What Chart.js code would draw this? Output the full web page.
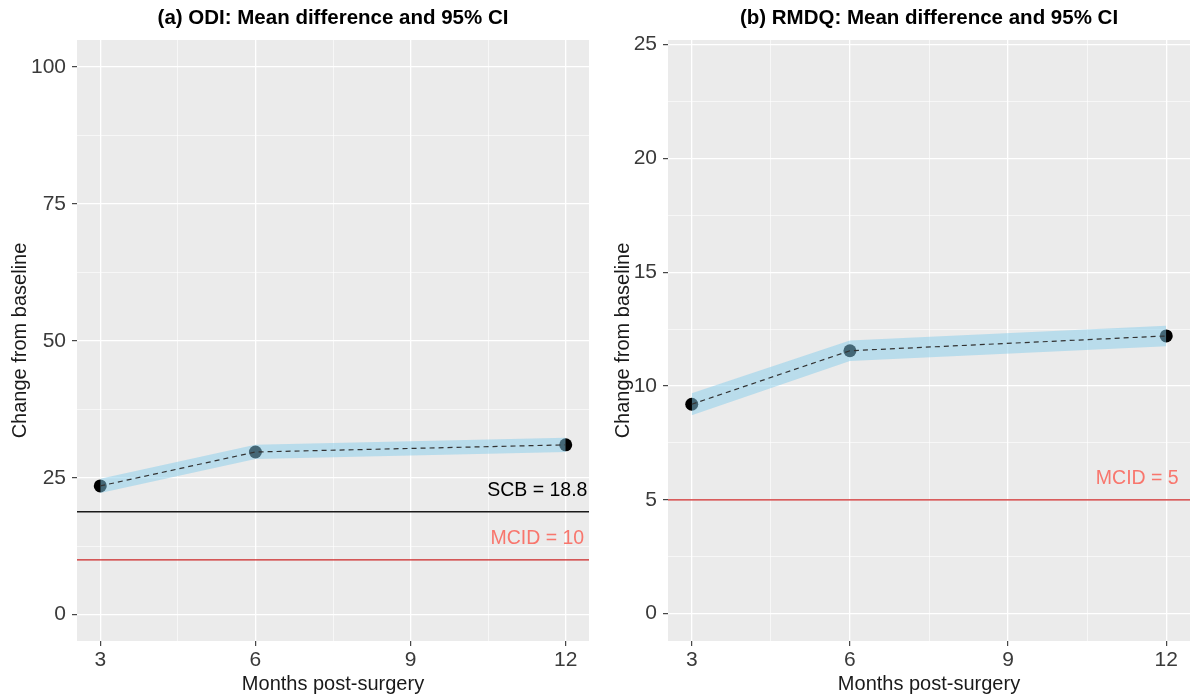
<!DOCTYPE html>
<html>
<head>
<meta charset="utf-8">
<script src="https://cdn.jsdelivr.net/npm/chart.js@4.4.1/dist/chart.umd.min.js"></script>
<style>
html, body { margin: 0; padding: 0; background: #fff; overflow: hidden; }
#wrap { position: relative; width: 1191px; height: 698px; }
canvas { position: absolute; top: 0; }
#myChart1 { left: 0; }
#myChart2 { left: 600px; }
</style>
</head>
<body>
<div id="wrap">
  <canvas id="myChart1" width="600" height="698"></canvas>
  <canvas id="myChart2" width="591" height="698"></canvas>
</div>
<script>
// months with an estimate
const months = [3, 6, 12]
const xTicks = [3, 6, 9, 12]
const xMinor = [4.5, 7.5, 10.5]

// (a) ODI
const odiMean = [23.5, 29.7, 31.0]
const odiLower = [22.2, 28.4, 29.7]
const odiUpper = [24.8, 31.0, 32.3]
const odiTicks = [0, 25, 50, 75, 100]
const odiMinor = [12.5, 37.5, 62.5, 87.5]
const odiScb = 18.8
const odiMcid = 10

// (b) RMDQ
const rmdqMean = [9.2, 11.55, 12.2]
const rmdqLower = [8.72, 11.1, 11.75]
const rmdqUpper = [9.68, 12.0, 12.65]
const rmdqTicks = [0, 5, 10, 15, 20, 25]
const rmdqMinor = [2.5, 7.5, 12.5, 17.5, 22.5]
const rmdqMcid = 5

Chart.defaults.font.family = '"Liberation Sans", Arial, sans-serif'

const xMin = 2.55
const xMax = 12.45
const labelX = 11.45

const panelBg = {
    id: 'panelBg',
    beforeDraw(chart) {
        const a = chart.chartArea
        const c = chart.ctx
        c.save()
        c.fillStyle = '#ebebeb'
        c.fillRect(a.left, a.top, a.right - a.left, a.bottom - a.top)
        c.restore()
    }
}

const refLabels = {
    id: 'refLabels',
    afterDatasetsDraw(chart, args, opts) {
        const c = chart.ctx
        const xs = chart.scales.x
        const ys = chart.scales.y
        c.save()
        c.font = '19.5px "Liberation Sans", Arial, sans-serif'
        c.textAlign = 'center'
        c.textBaseline = 'middle'
        opts.items.forEach(it => {
            c.fillStyle = it.textColor
            c.fillText(it.text, xs.getPixelForValue(labelX), ys.getPixelForValue(it.value) - 21)
        })
        c.restore()
    }
}

function xy(vals) {
    return months.map((m, i) => ({ x: m, y: vals[i] }))
}

function makeChart(id, title, mean, lower, upper, yMin, yMax, yTicks, yMinor, refs, leftW, padRight, yTitlePad) {
    const refSets = refs.map(r => ({
        data: [{ x: xMin, y: r.value }, { x: xMax, y: r.value }],
        borderColor: r.lineColor,
        borderWidth: 1.4,
        pointRadius: 0,
        fill: false,
        order: 10
    }))
    return new Chart(document.getElementById(id), {
        type: 'line',
        data: {
            datasets: [
                ...refSets,
                {
                    data: xy(mean),
                    showLine: false,
                    pointRadius: 6.5,
                    pointBackgroundColor: '#000',
                    pointBorderWidth: 0,
                    order: 5
                },
                {
                    data: xy(lower),
                    borderWidth: 0,
                    pointRadius: 0,
                    fill: false,
                    order: 3
                },
                {
                    data: xy(upper),
                    borderWidth: 0,
                    pointRadius: 0,
                    backgroundColor: 'rgba(135, 206, 235, 0.5)',
                    fill: '-1',
                    order: 3
                },
                {
                    data: xy(mean),
                    borderColor: '#333',
                    borderWidth: 1.2,
                    borderDash: [5, 4],
                    pointRadius: 0,
                    fill: false,
                    order: 1
                }
            ]
        },
        options: {
            responsive: false,
            animation: false,
            layout: { autoPadding: false, padding: { left: 0, right: padRight, top: 0, bottom: 0 } },
            plugins: {
                legend: { display: false },
                tooltip: { enabled: false },
                title: {
                    display: true,
                    fullSize: false,
                    text: title,
                    color: '#000',
                    font: { size: 20.5, weight: 'bold' },
                    padding: { top: 6.5, bottom: 8.9 }
                },
                refLabels: { items: refs.map(r => ({ value: r.value, text: r.text, textColor: r.textColor })) }
            },
            scales: {
                x: {
                    type: 'linear',
                    min: xMin,
                    max: xMax,
                    afterBuildTicks: s => { s.ticks = [...xTicks, ...xMinor].sort((a, b) => a - b).map(v => ({ value: v })) },
                    afterFit: s => { s.height = 57; s.paddingLeft = 0; s.paddingRight = 0 },
                    border: { display: false },
                    grid: {
                        color: '#fff',
                        lineWidth: c => xTicks.includes(c.tick.value) ? 1.3 : 0.6,
                        tickColor: c => xTicks.includes(c.tick.value) ? '#333' : 'rgba(0,0,0,0)',
                        tickLength: 5,
                        tickWidth: 1.1
                    },
                    ticks: {
                        autoSkip: false,
                        maxRotation: 0,
                        padding: 2,
                        color: '#3a3a3a',
                        font: { size: 21 },
                        callback: v => xTicks.includes(v) ? String(v) : ''
                    },
                    title: {
                        display: true,
                        text: 'Months post-surgery',
                        color: '#1a1a1a',
                        font: { size: 20 },
                        padding: { top: 0, bottom: 2 }
                    }
                },
                y: {
                    min: yMin,
                    max: yMax,
                    afterBuildTicks: s => { s.ticks = [...yTicks, ...yMinor].sort((a, b) => a - b).map(v => ({ value: v })) },
                    afterFit: s => { s.width = leftW; s.paddingTop = 0; s.paddingBottom = 0 },
                    border: { display: false },
                    grid: {
                        color: '#fff',
                        lineWidth: c => yTicks.includes(c.tick.value) ? 1.3 : 0.6,
                        tickColor: c => yTicks.includes(c.tick.value) ? '#333' : 'rgba(0,0,0,0)',
                        tickLength: 5,
                        tickWidth: 1.1
                    },
                    ticks: {
                        autoSkip: false,
                        padding: 6,
                        color: '#3a3a3a',
                        font: { size: 21 },
                        callback: v => yTicks.includes(v) ? String(v) : ''
                    },
                    title: {
                        display: true,
                        text: 'Change from baseline',
                        color: '#1a1a1a',
                        font: { size: 20 },
                        padding: { top: yTitlePad, bottom: 0 }
                    }
                }
            }
        },
        plugins: [panelBg, refLabels]
    })
}

const myChart1 = makeChart('myChart1', '(a) ODI: Mean difference and 95% CI',
    odiMean, odiLower, odiUpper, -4.8, 104.9, odiTicks, odiMinor,
    [
        { value: odiScb, lineColor: '#1a1a1a', text: 'SCB = ' + odiScb, textColor: '#000' },
        { value: odiMcid, lineColor: '#cd2626', text: 'MCID = ' + odiMcid, textColor: '#f8766d' }
    ], 77, 11, 8)

const myChart2 = makeChart('myChart2', '(b) RMDQ: Mean difference and 95% CI',
    rmdqMean, rmdqLower, rmdqUpper, -1.2, 25.2, rmdqTicks, rmdqMinor,
    [
        { value: rmdqMcid, lineColor: '#cd2626', text: 'MCID = ' + rmdqMcid, textColor: '#f8766d' }
    ], 68, 1, 11)
</script>
</body>
</html>
